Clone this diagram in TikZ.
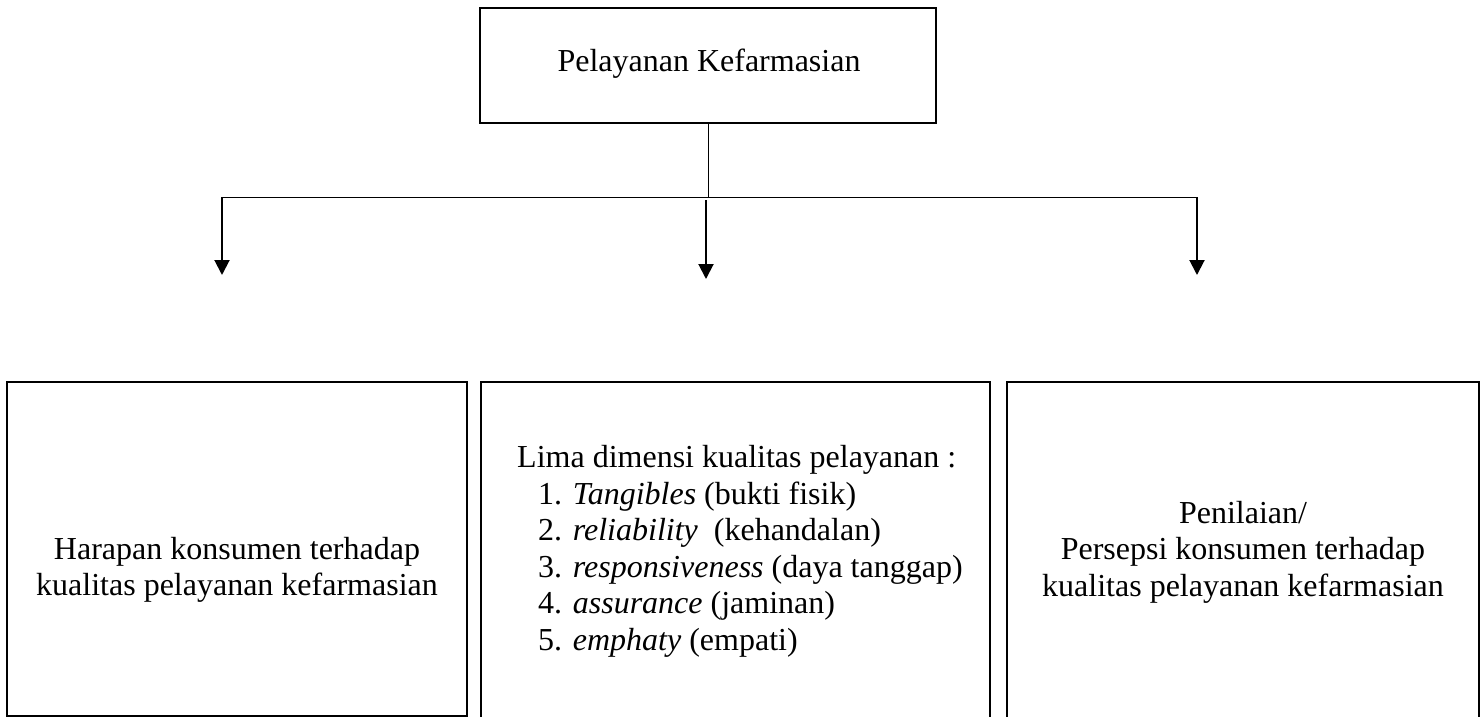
\documentclass[tikz,border=0pt]{standalone}
\usepackage{fontspec}
\setmainfont{Liberation Serif}
\usetikzlibrary{arrows.meta}
\begin{document}
\begin{tikzpicture}[x=1pt,y=-1pt,
  box/.style={draw=black,line width=2pt,inner sep=0pt},
  txt/.style={font=\fontsize{32}{36.6}\selectfont,inner sep=0pt},
  arr/.style={line width=2pt,-{Triangle[width=15pt,length=15pt]}},
  thinline/.style={line width=1pt}]
\clip (0,0) rectangle (1484,717);
\fill[white] (0,0) rectangle (1484,717);
% top box
\node[box,minimum width=456pt,minimum height=115pt] (top) at (708,65.5) {};
\node[txt,anchor=base] (toptext) at (709,72) {Pelayanan Kefarmasian};
% bottom boxes
\node[box,minimum width=460pt,minimum height=334pt] (left) at (237,549) {};
\node[box,minimum width=509pt,minimum height=358pt] (mid) at (735.5,561) {};
\node[box,minimum width=472pt,minimum height=358pt] (right) at (1243,561) {};
% texts
\node[txt,align=center] (lt) at (237,570) {Harapan konsumen terhadap\\kualitas pelayanan kefarmasian};
\node[txt,align=left,anchor=north west] (mt) at (517,445) {Lima dimensi kualitas pelayanan :\\
\hspace*{21pt}1. \textit{Tangibles} (bukti fisik)\\
\hspace*{21pt}2. \textit{reliability}\ \ (kehandalan)\\
\hspace*{21pt}3. \textit{responsiveness} (daya tanggap)\\
\hspace*{21pt}4. \textit{assurance} (jaminan)\\
\hspace*{21pt}5. \textit{emphaty} (empati)};
\node[txt,align=center] (rt) at (1243,552) {Penilaian/\\Persepsi konsumen terhadap\\kualitas pelayanan kefarmasian};
% connectors
\coordinate (hl) at (222,197);
\coordinate (hr) at (1197,197);
\coordinate (ms) at (706,200);
\coordinate (tl) at (222,275);
\coordinate (tm) at (706,279);
\coordinate (tr) at (1197,275);
\draw[thinline] (top.south) -- (top.south |- hl);
\draw[thinline] (hl) -- (hr);
\draw[arr] (hl) -- (tl);
\draw[arr] (ms) -- (tm);
\draw[arr] (hr) -- (tr);
\end{tikzpicture}
\end{document}
